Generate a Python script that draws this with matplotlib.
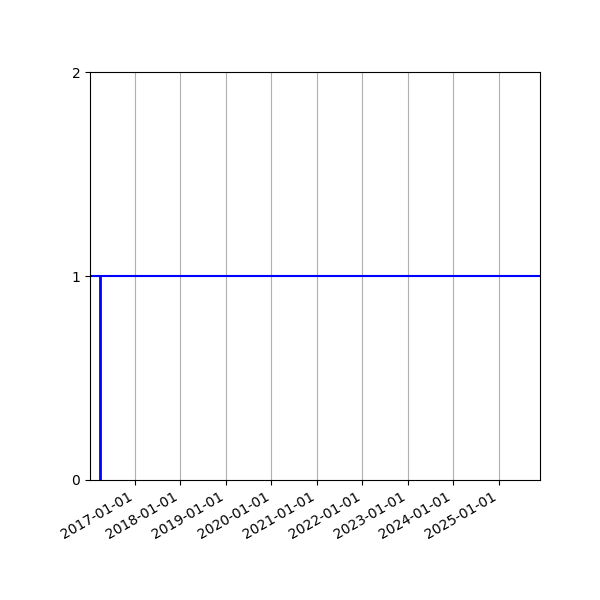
import matplotlib
matplotlib.use('Agg')
import matplotlib.pyplot as plt
import matplotlib.dates as mdates
import numpy as np
import pandas as pd

# step series: off until the switch date, on afterwards
switch_dates = pd.to_datetime(['2016-03-24'])
level_before = [0]
level_after = [1]
x_start = pd.Timestamp('2016-01-05')
x_end = pd.Timestamp('2025-11-28')
y_ticks = [0, 1, 2]

fig, ax = plt.subplots(figsize=(6, 6), dpi=100)
fig.subplots_adjust(left=0.15, right=0.9, top=0.88, bottom=0.2)

ax.vlines(switch_dates, level_before, level_after, color='b', linewidth=2)
ax.axhline(level_after[0], color='b', linewidth=1.5)

ax.set_xlim(x_start, x_end)
ax.set_ylim(0, 2)
ax.set_yticks(y_ticks)

ax.xaxis.set_major_locator(mdates.YearLocator())
ax.xaxis.set_major_formatter(mdates.DateFormatter('%Y-%m-%d'))
ax.grid(True, axis='x')
plt.setp(ax.get_xticklabels(), rotation=30, ha='right')

fig.savefig('out.png')
